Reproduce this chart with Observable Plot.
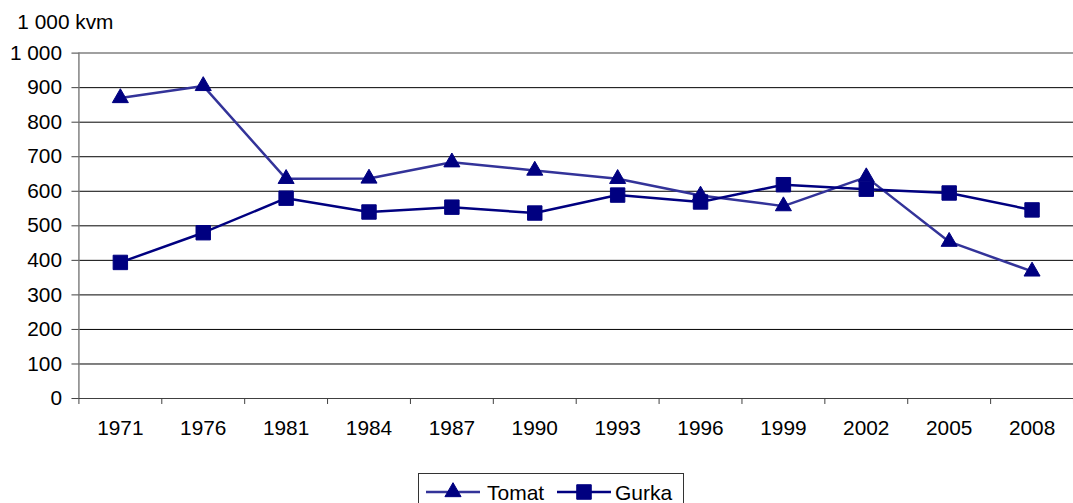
<!DOCTYPE html>
<html>
<head>
<meta charset="utf-8">
<script src="https://cdn.jsdelivr.net/npm/d3@7"></script>
<script src="https://cdn.jsdelivr.net/npm/@observablehq/plot@0.6"></script>
<style>
  html, body { margin: 0; padding: 0; background: #fff; overflow: hidden; }
  #wrap { position: relative; width: 1073px; height: 503px; overflow: hidden; font-family: "Liberation Sans", Arial, sans-serif; }
  #legend { position: absolute; left: 418px; top: 473px; width: 266px; height: 34px; border: 1px solid #333; box-sizing: border-box; background: #fff; }
  #legend svg { display: block; }
</style>
</head>
<body>
<div id="wrap">
  <div id="chart"></div>
  <div id="legend"></div>
</div>
<script>
const years = ["1971","1976","1981","1984","1987","1990","1993","1996","1999","2002","2005","2008"];
const tomat = [870, 905, 636, 637, 684, 660, 636, 588, 557, 641, 454, 368];
const gurka = [394, 480, 580, 540, 554, 537, 589, 569, 619, 606, 595, 546];
const yTicks = [0, 100, 200, 300, 400, 500, 600, 700, 800, 900, 1000];
const seriesNames = ["Tomat", "Gurka"];
const unitLabel = "1 000 kvm";

const tomatLine = "#333399";
const navy = "#000080";
const FS = 21;

const idx = years.map((d, i) => i);
const bounds = years.map((d, i) => i - 0.5).concat([years.length - 0.5]);
const tomatData = years.map((y, i) => ({i, v: tomat[i]}));
const gurkaData = years.map((y, i) => ({i, v: gurka[i]}));
const fmt = v => v >= 1000 ? d3.format(",")(v).replace(/,/g, " ") : String(v);

const chart = Plot.plot({
  width: 1081,
  height: 460,
  marginLeft: 79,
  marginRight: 0,
  marginTop: 53,
  marginBottom: 59,
  style: {fontFamily: "'Liberation Sans', Arial, sans-serif", fontSize: FS + "px", color: "#000", background: "#fff", overflow: "visible"},
  x: {type: "linear", domain: [-0.5, years.length - 0.5], label: null},
  y: {domain: [0, 1000], label: null},
  marks: [
    Plot.ruleY(yTicks.filter(v => v > 0 && v < 1000), {stroke: "#000", strokeWidth: 1, strokeOpacity: 1}),
    Plot.ruleY([1000], {stroke: "#808080", strokeWidth: 1.5}),
    Plot.ruleX([-0.5], {stroke: "#808080", strokeWidth: 1.5}),
    Plot.ruleY([0], {stroke: "#404040", strokeWidth: 1.2}),
    Plot.axisY({ticks: yTicks, tickSize: 7, tickPadding: 10, tickFormat: fmt, stroke: "#404040", fontSize: FS, label: null}),
    Plot.axisX({ticks: idx, tickSize: 0, tickPadding: 22, tickFormat: i => years[i], fontSize: FS, label: null}),
    Plot.axisX({ticks: bounds, tickSize: 6, tickFormat: () => "", stroke: "#404040", label: null}),
    Plot.text([unitLabel], {frameAnchor: "top-left", lineAnchor: "middle", dx: -62, dy: -31, textAnchor: "start", fontSize: FS}),
    Plot.line(tomatData, {x: "i", y: "v", stroke: tomatLine, strokeWidth: 2.5}),
    Plot.dot(tomatData, {x: "i", y: "v", symbol: "triangle", r: 6, fill: navy, stroke: navy, strokeWidth: 1}),
    Plot.line(gurkaData, {x: "i", y: "v", stroke: navy, strokeWidth: 2.5}),
    Plot.dot(gurkaData, {x: "i", y: "v", symbol: "square", r: 8.2, fill: navy, stroke: navy, strokeWidth: 1})
  ]
});
document.getElementById("chart").appendChild(chart);

// Legend
const lg = d3.select("#legend").append("svg").attr("width", 266).attr("height", 32);
const items = [
  {name: seriesNames[0], color: tomatLine, symbol: d3.symbolTriangle, size: 113, x0: 7, tx: 68},
  {name: seriesNames[1], color: navy, symbol: d3.symbolSquare, size: 211, x0: 138, tx: 196}
];
items.forEach(it => {
  lg.append("line").attr("x1", it.x0).attr("x2", it.x0 + 54).attr("y1", 18).attr("y2", 18)
    .attr("stroke", it.color).attr("stroke-width", 2.5);
  lg.append("path").attr("d", d3.symbol(it.symbol, it.size)())
    .attr("transform", `translate(${it.x0 + 27},18)`).attr("fill", navy).attr("stroke", navy);
  lg.append("text").attr("x", it.tx).attr("y", 26).attr("font-size", FS)
    .attr("font-family", "'Liberation Sans', Arial, sans-serif").text(it.name);
});
</script>
</body>
</html>
